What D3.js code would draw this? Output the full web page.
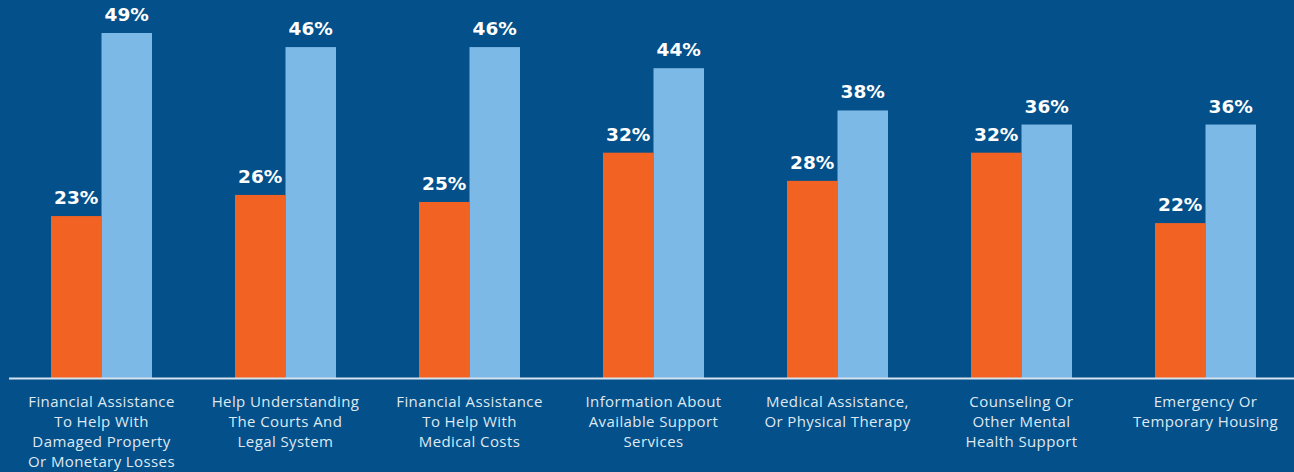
<!DOCTYPE html>
<html>
<head>
<meta charset="utf-8">
<script src="https://cdn.jsdelivr.net/npm/d3@7"></script>
<style>
  html, body { margin: 0; padding: 0; background: #04508a; }
  svg { display: block; }
</style>
</head>
<body>
<svg id="chart" width="1294" height="472"></svg>
<script>
const categories = [
  ["Financial Assistance", "To Help With", "Damaged Property", "Or Monetary Losses"],
  ["Help Understanding", "The Courts And", "Legal System"],
  ["Financial Assistance", "To Help With", "Medical Costs"],
  ["Information About", "Available Support", "Services"],
  ["Medical Assistance,", "Or Physical Therapy"],
  ["Counseling Or", "Other Mental", "Health Support"],
  ["Emergency Or", "Temporary Housing"]
];
const seriesA = [23, 26, 25, 32, 28, 32, 22];          // orange
const seriesB = [49, 47, 47, 44, 38, 36, 36];          // light blue (bar heights as drawn)
const labelsA = ["23%", "26%", "25%", "32%", "28%", "32%", "22%"];
const labelsB = ["49%", "46%", "46%", "44%", "38%", "36%", "36%"];

const W = 1294, H = 472;
const svg = d3.select("#chart");
const baseY = 378;

const x = d3.scaleBand()
  .domain(d3.range(categories.length))
  .range([9.5, 1297.5])
  .paddingInner(0.451)
  .paddingOuter(0.2255);

const inner = d3.scaleBand()
  .domain(["A", "B"])
  .range([0, x.bandwidth()]);

const y = d3.scaleLinear().domain([0, 49]).range([baseY, 33]);

const colors = { A: "#f26223", B: "#7cb9e6" };

const data = categories.map((c, i) => ({
  i,
  vals: [
    { k: "A", v: seriesA[i], label: labelsA[i] },
    { k: "B", v: seriesB[i], label: labelsB[i] }
  ]
}));

const g = svg.selectAll("g.grp").data(data).join("g")
  .attr("class", "grp")
  .attr("transform", d => `translate(${x(d.i)},0)`);

g.selectAll("rect").data(d => d.vals).join("rect")
  .attr("x", d => inner(d.k))
  .attr("width", inner.bandwidth())
  .attr("y", d => y(d.v))
  .attr("height", d => baseY - y(d.v))
  .attr("fill", d => colors[d.k]);

g.selectAll("text.val").data(d => d.vals).join("text")
  .attr("class", "val")
  .attr("x", d => inner(d.k) + inner.bandwidth() / 2)
  .attr("y", d => y(d.v) - 12)
  .attr("text-anchor", "middle")
  .attr("fill", "#ffffff")
  .style("font-family", "'DejaVu Sans', sans-serif")
  .style("font-weight", "bold")
  .style("font-size", "18.5px")
  .text(d => d.label);

// baseline
svg.append("line")
  .attr("x1", 9).attr("x2", W)
  .attr("y1", baseY + 0.5).attr("y2", baseY + 0.5)
  .attr("stroke", "#d6e3ef")
  .attr("stroke-width", 2);

// category labels
const axisG = svg.append("g");
categories.forEach((lines, i) => {
  const t = axisG.append("text")
    .attr("text-anchor", "middle")
    .attr("fill", "#dfe9f3")
    .style("font-family", "'Open Sans', sans-serif")
    .style("font-size", "15px")
    .style("letter-spacing", "0.4px");
  lines.forEach((ln, j) => {
    t.append("tspan")
      .attr("x", x(i) + x.bandwidth() / 2)
      .attr("y", 407 + j * 20)
      .text(ln);
  });
});
</script>
</body>
</html>
